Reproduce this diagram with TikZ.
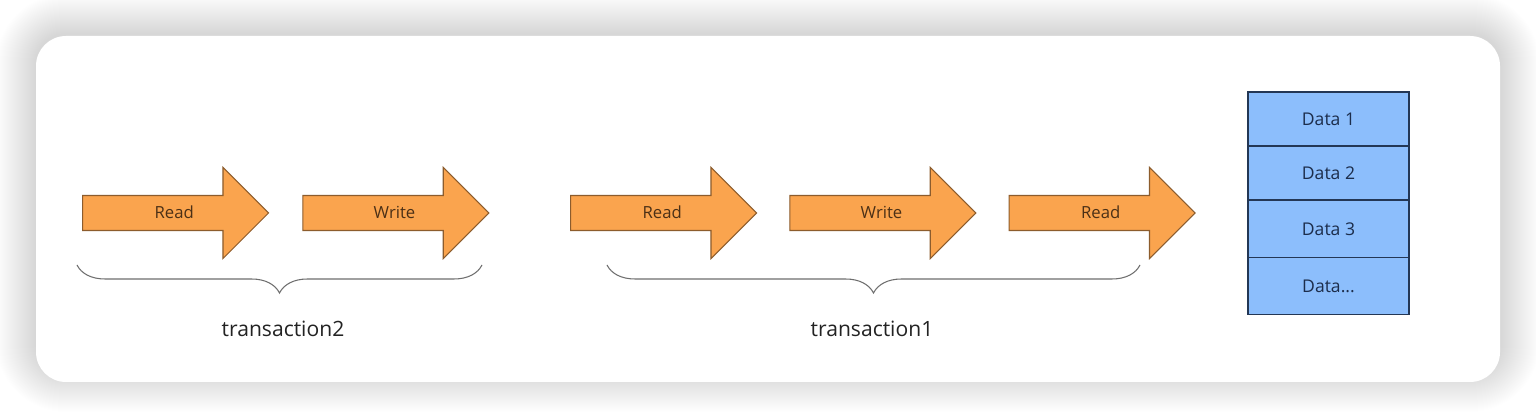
\documentclass[tikz,border=0pt]{standalone}
\usepackage{fontspec}
\setmainfont{Open Sans}
\usetikzlibrary{positioning,shapes.arrows,decorations.pathreplacing}
\definecolor{arrowfill}{RGB}{250,164,78}
\definecolor{arrowline}{RGB}{140,92,45}
\definecolor{arrowtext}{RGB}{75,48,22}
\definecolor{datafill}{RGB}{140,190,252}
\definecolor{dataline}{RGB}{35,55,85}
\definecolor{datatext}{RGB}{28,45,75}
\definecolor{captext}{RGB}{35,35,35}
\definecolor{bracegray}{RGB}{110,110,110}

\begin{document}
\begin{tikzpicture}[
    x=0.02cm, y=-0.02cm,
    op/.style={single arrow, draw=arrowline, fill=arrowfill, line width=0.6pt, single arrow head extend=0.56cm, minimum height=3.72cm, minimum width=1.8cm, inner xsep=0pt, inner ysep=0pt, text height=0.457cm, text depth=0.223cm, font=\fontsize{9.5}{11}\selectfont, text=arrowtext, execute at begin node=\hspace{0.3cm}},
    cell/.style={draw=dataline, fill=datafill, line width=0.6pt, minimum width=3.22cm, inner sep=0pt, outer sep=0pt, font=\fontsize{10}{12}\selectfont, text=datatext},
    brace/.style={decorate, decoration={brace, mirror, amplitude=0.56cm}, draw=bracegray, line width=0.6pt},
    caption/.style={font=\fontsize{12}{14}\selectfont, text=captext}
]
    \useasboundingbox (0,0) rectangle (1536,418);
    \foreach \s in {1,...,40}{
        \pgfmathsetmacro\rr{0.6+0.02*\s}
        \fill[black, opacity=0.0055, rounded corners=\rr cm] (36-\s,34-\s) rectangle (1500+\s,372+\s);
    }
    \fill[white, rounded corners=0.6cm] (36,36) rectangle (1500,382);

    \node[op, anchor=west] (read2) at (82,213) {Read};
    \node[op, right=0.66cm of read2] (write2) {Write};
    \node[op, anchor=west] (read1) at (570,213) {Read};
    \node[op, right=0.64cm of read1] (write1) {Write};
    \node[op, right=0.64cm of write1] (reread1) {Read};

    \coordinate (b2l) at (77,265);
    \coordinate (b2r) at (482,265);
    \coordinate (b1l) at (607,265);
    \coordinate (b1r) at (1140,265);
    \draw[brace] (b2l) -- (b2r);
    \draw[brace] (b1l) -- (b1r);
    \node[caption] (t2) at (283,329) {transaction2};
    \node[caption] (t1) at (872,329) {transaction1};

    \node[cell, minimum height=1.08cm] (d1) at (1328.5,119) {Data 1};
    \node[cell, minimum height=1.08cm, below=0pt of d1] (d2) {Data 2};
    \node[cell, minimum height=1.16cm, below=0pt of d2] (d3) {Data 3};
    \node[cell, minimum height=1.14cm, below=0pt of d3] (d4) {Data...};
\end{tikzpicture}
\end{document}
